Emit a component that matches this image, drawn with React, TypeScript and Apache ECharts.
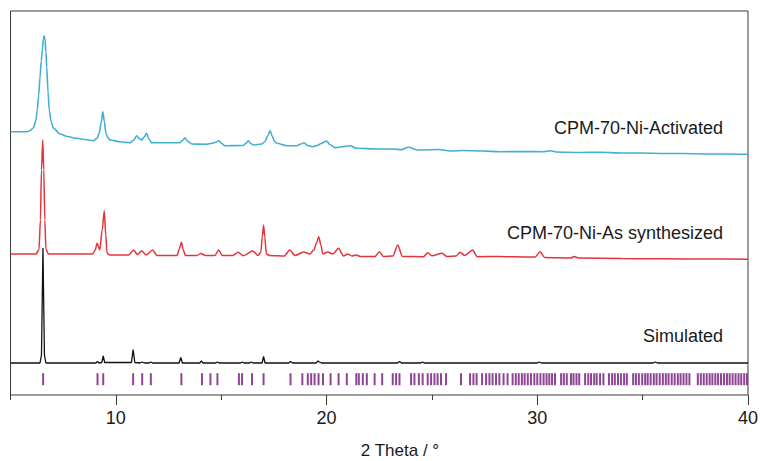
import { useEffect, useRef } from 'react';
import * as echarts from 'echarts';

// x: 2θ (degrees); y: stacked intensity (arbitrary units, traces offset vertically)
const xTickValues = [10, 20, 30, 40];
const xMinorTickValues = [5, 15, 25, 35];

const activated: [number, number][] = [
  [5, 263.3], [5.78, 263.3], [5.93, 264.5], [6.08, 267], [6.2, 274], [6.27, 285], [6.34, 300],
  [6.4, 318], [6.46, 334], [6.51, 345], [6.56, 356], [6.6, 359.3], [6.64, 355], [6.68, 343],
  [6.72, 328], [6.78, 303], [6.84, 285], [6.93, 273], [7.03, 267], [7.35, 261], [7.7, 258.5],
  [8.14, 256.7], [8.6, 255.2], [8.93, 254.3], [9.1, 256.5], [9.21, 261.7], [9.3, 272],
  [9.38, 283.3], [9.45, 274], [9.53, 261.7], [9.62, 257.5], [9.72, 255], [10.2, 253.2],
  [10.67, 252.3], [10.85, 255], [10.99, 259.3], [11.1, 256.5], [11.23, 255], [11.35, 258],
  [11.46, 261.7], [11.58, 255.5], [11.7, 252.3], [12.4, 252.2], [13.04, 252.3], [13.16, 254.5],
  [13.28, 257.3], [13.42, 253.5], [13.6, 251], [14.31, 250.7], [14.55, 251.7], [14.75, 252.8],
  [14.9, 254.3], [15.02, 251.5], [15.18, 249.3], [16.05, 249.5], [16.18, 251.8], [16.29, 254.3],
  [16.4, 251.5], [16.52, 250], [16.92, 251], [17.08, 253.5], [17.2, 259], [17.32, 264.3],
  [17.42, 259], [17.52, 254], [17.63, 251.7], [18.11, 249.3], [18.58, 249.3], [18.78, 251],
  [18.93, 252.3], [19.1, 249.5], [19.34, 248.3], [19.55, 249.5], [19.75, 251.5], [19.88, 253],
  [20.01, 254], [20.15, 250.5], [20.4, 247.3], [20.72, 248.3], [21.11, 249.3], [21.43, 246.7],
  [22.38, 246], [23.17, 246], [23.55, 245.3], [23.88, 247.7], [24.35, 245], [25.3, 245.5],
  [25.9, 244], [26.5, 244.5], [27.4, 244], [28.23, 243.3], [29.5, 243.5], [30.3, 243.3],
  [30.6, 244.3], [30.9, 243], [32, 242.5], [33, 242.7], [34, 242], [35, 242], [36, 241.5],
  [37, 241.5], [38, 241], [39, 241], [40, 240.7],
];

const asSynthesized: [number, number][] = [
  [5, 141], [6.2, 141], [6.35, 145], [6.42, 175], [6.47, 225], [6.53, 255], [6.58, 225],
  [6.63, 175], [6.68, 146], [6.8, 141], [8.9, 141], [9.02, 145], [9.11, 151.7], [9.24, 145],
  [9.35, 165], [9.45, 184.3], [9.52, 160], [9.58, 142], [9.7, 140], [10.6, 140], [10.85, 145],
  [11.02, 140.5], [11.22, 144], [11.45, 140], [11.74, 145], [11.95, 139.5], [12.9, 139.5],
  [13.01, 146], [13.11, 152.7], [13.2, 145], [13.3, 139.5], [13.85, 139.5], [14.04, 141.5],
  [14.25, 139.5], [14.7, 139.5], [14.88, 145], [15.05, 139.5], [15.55, 139.5], [15.8, 142.7],
  [16.05, 139.3], [16.5, 144], [16.75, 139.5], [16.88, 143], [16.95, 158], [17.01, 170],
  [17.07, 158], [17.14, 141], [17.3, 139.5], [18.0, 139], [18.25, 145], [18.5, 139.5],
  [18.91, 143], [19.2, 141], [19.4, 145], [19.52, 152], [19.63, 158.3], [19.73, 150],
  [19.82, 141], [20.06, 143], [20.3, 141], [20.57, 146.7], [20.8, 139], [21.01, 141],
  [21.2, 139], [21.41, 140], [21.6, 138.5], [22.3, 138.5], [22.51, 143.3], [22.7, 138.5],
  [23.15, 139], [23.38, 150], [23.6, 138.5], [24.6, 138.3], [24.8, 142.3], [25.0, 139.3],
  [25.48, 141.7], [25.7, 138.5], [26.15, 139], [26.34, 142.7], [26.55, 139.5], [26.93, 145],
  [27.15, 138.3], [28.2, 138.5], [28.9, 138.2], [29.9, 138], [30.13, 143.3], [30.35, 137.5],
  [31.6, 137], [31.75, 138.5], [31.95, 137], [34, 136.5], [36, 136.2], [38, 136], [40, 135.7],
];

const simulated: [number, number][] = [
  [5, 32], [6.4, 32], [6.47, 40], [6.54, 147], [6.61, 40], [6.68, 32], [9.05, 32], [9.13, 33.5],
  [9.2, 32], [9.33, 32.5], [9.4, 39], [9.47, 32.5], [10.74, 32.5], [10.82, 45.5], [10.9, 32.5],
  [11.15, 32], [11.25, 33], [11.35, 32], [11.58, 32], [11.66, 33], [11.74, 32], [13.0, 32],
  [13.08, 37.5], [13.16, 32], [13.98, 32], [14.06, 34], [14.14, 32], [14.74, 32], [14.82, 33],
  [14.9, 32], [15.92, 32], [16.0, 33], [16.08, 32], [16.35, 32], [16.43, 33], [16.51, 32],
  [16.94, 32], [17.01, 38.7], [17.08, 32], [18.2, 32], [18.29, 33.5], [18.38, 32], [19.5, 32],
  [19.59, 34], [19.67, 33], [19.76, 32], [23.37, 32], [23.46, 33.5], [23.55, 32], [24.47, 32],
  [24.55, 33], [24.63, 32], [30.0, 32], [30.1, 33], [30.2, 32], [35.5, 32], [35.6, 33],
  [35.7, 32], [40, 32],
];

const braggPositions = [
  6.55, 9.13, 9.4, 10.82, 11.25, 11.66, 13.11, 14.09, 14.49, 14.82, 15.84, 15.99, 16.46, 17.01,
  18.29, 18.85, 19.11, 19.27, 19.43, 19.62, 19.83, 20.19, 20.57, 20.96, 21.41, 21.53, 21.72,
  21.91, 22.28, 22.64, 23.14, 23.3, 23.46, 24.01, 24.17, 24.38, 24.56, 24.8, 24.96, 25.12,
  25.27, 25.43, 25.67, 26.38, 26.81, 26.97, 27.12, 27.38, 27.57, 27.73, 27.88, 28.04, 28.2,
  28.4, 28.59, 28.83, 28.98, 29.12, 29.27, 29.4, 29.55, 29.7, 29.86, 30.0, 30.15, 30.3, 30.44,
  30.57, 30.7, 30.84, 31.13, 31.26, 31.4, 31.6, 31.72, 31.86, 31.99, 32.27, 32.42, 32.55,
  32.7, 32.82, 32.98, 33.14, 33.4, 33.55, 33.68, 33.83, 33.97, 34.12, 34.25, 34.55, 34.68,
  34.82, 34.98, 35.12, 35.24, 35.38, 35.53, 35.66, 35.81, 35.96, 36.1, 36.23, 36.38, 36.52,
  36.67, 36.8, 36.94, 37.08, 37.22, 37.62, 37.76, 37.9, 38.04, 38.18, 38.31, 38.45, 38.58,
  38.72, 38.86, 39.0, 39.13, 39.27, 39.41, 39.55, 39.68, 39.82, 39.95,
];
const BRAGG_ROW = 15.8;

const seriesNames = ['CPM-70-Ni-Activated', 'CPM-70-Ni-As synthesized', 'Simulated'];
const axisTitle = '2 Theta / °';

const FONT = '"Liberation Sans", Arial, Helvetica, sans-serif';

export default function App() {
  const ref = useRef<HTMLDivElement>(null);
  useEffect(() => {
    document.body.style.margin = '0';
    const chart = echarts.init(ref.current!, null, { renderer: 'svg' });
    const label = (text: string, x: number, y: number, size = 18, align = 'right') => ({
      type: 'text',
      x,
      y,
      style: {
        text,
        fill: '#1a1a1a',
        font: `${size}px ${FONT}`,
        fontSize: size,
        fontFamily: FONT,
        textAlign: align,
        textVerticalAlign: 'middle',
        align,
        verticalAlign: 'middle',
      },
    });
    chart.setOption({
      animation: false,
      backgroundColor: '#ffffff',
      grid: {
        left: 10.5,
        right: 13,
        top: 11,
        bottom: 66,
        show: true,
        borderColor: '#3a3a3a',
        borderWidth: 1,
        backgroundColor: 'transparent',
      },
      xAxis: [
        {
          type: 'value',
          min: 5,
          max: 40,
          interval: 5,
          position: 'bottom',
          axisLine: { show: false },
          splitLine: { show: false },
          axisTick: {
            show: true,
            inside: false,
            length: 10,
            customValues: xTickValues,
            lineStyle: { color: '#3a3a3a', width: 1 },
          },
          axisLabel: {
            show: true,
            customValues: xTickValues,
            fontSize: 18,
            fontFamily: FONT,
            color: '#1a1a1a',
            margin: 14,
          },
        },
        {
          type: 'value',
          min: 5,
          max: 40,
          interval: 5,
          position: 'bottom',
          axisLine: { show: false },
          splitLine: { show: false },
          axisTick: {
            show: true,
            inside: false,
            length: 5,
            customValues: xMinorTickValues,
            lineStyle: { color: '#3a3a3a', width: 1 },
          },
          axisLabel: { show: false },
        },
      ],
      yAxis: {
        type: 'value',
        min: 0,
        max: 384,
        show: false,
        splitLine: { show: false },
      },
      series: [
        {
          name: seriesNames[0],
          type: 'line',
          data: activated,
          symbol: 'none',
          smooth: 0.3,
          smoothMonotone: 'x',
          lineStyle: { color: '#42afd3', width: 1.6 },
          z: 3,
        },
        {
          name: seriesNames[1],
          type: 'line',
          data: asSynthesized,
          symbol: 'none',
          smooth: 0.25,
          smoothMonotone: 'x',
          lineStyle: { color: '#e3343b', width: 1.5 },
          z: 3,
        },
        {
          name: seriesNames[2],
          type: 'line',
          data: simulated,
          symbol: 'none',
          lineStyle: { color: '#111111', width: 1.3 },
          z: 3,
        },
        {
          name: 'Bragg positions',
          type: 'scatter',
          data: braggPositions.map((p) => [p, BRAGG_ROW]),
          symbol: 'rect',
          symbolSize: [2, 12],
          itemStyle: { color: '#84308a', opacity: 0.9 },
          z: 2,
        },
      ],
      graphic: [
        label(seriesNames[0], 723, 128),
        label(seriesNames[1], 723, 233),
        label(seriesNames[2], 723, 336),
        label(axisTitle, 400, 450, 17, 'center'),
      ],
    });
    return () => chart.dispose();
  }, []);
  return (
    <div
      ref={ref}
      style={{ position: 'fixed', left: 0, top: 0, width: 761, height: 461 }}
    />
  );
}
